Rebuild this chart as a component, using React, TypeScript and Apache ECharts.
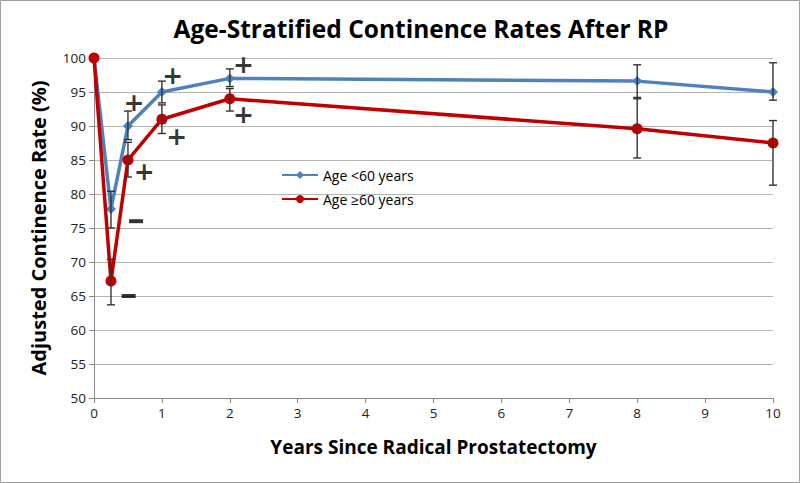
import React, { useEffect, useRef } from "react";
import * as echarts from "echarts";

const years = [0, 0.25, 0.5, 1, 2, 8, 10];
const youngRates = [100, 77.8, 90, 95, 97, 96.6, 95];
const oldRates = [100, 67.2, 85, 91, 94, 89.6, 87.5];
// error bar ranges [low, high]; null where no bar
const youngErr: (number[] | null)[] = [null, [75, 80.4], [88, 92.2], [93.4, 96.6], [95.8, 98.4], [94, 99], [93.8, 99.3]];
const oldErr: (number[] | null)[] = [null, [63.7, 70.4], [82.5, 87.6], [88.9, 93.1], [92.2, 95.5], [85.3, 94.2], [81.3, 90.8]];
const plusMarks = [[0.59, 93.5], [0.74, 83.3], [1.16, 97.5], [1.22, 88.5], [2.2, 99], [2.2, 91.7]];
const minusMarks = [[0.62, 76], [0.51, 65]];
const yTicks = { min: 50, max: 100, interval: 5 };
const xTicks = { min: 0, max: 10, interval: 1 };

const font = "'Open Sans', 'Liberation Sans', sans-serif";

function errData(err: (number[] | null)[]) {
  const out: number[][] = [];
  err.forEach((e, i) => {
    if (e) out.push([years[i], e[0], e[1]]);
  });
  return out;
}

function renderErr(params: any, api: any) {
  const x = api.value(0);
  const lo = api.coord([x, api.value(1)]);
  const hi = api.coord([x, api.value(2)]);
  const w = 4;
  const style = { stroke: "#333333", lineWidth: 1.4 };
  return {
    type: "group",
    children: [
      { type: "line", shape: { x1: lo[0], y1: lo[1], x2: hi[0], y2: hi[1] }, style },
      { type: "line", shape: { x1: lo[0] - w, y1: lo[1], x2: lo[0] + w, y2: lo[1] }, style },
      { type: "line", shape: { x1: hi[0] - w, y1: hi[1], x2: hi[0] + w, y2: hi[1] }, style },
    ],
  };
}

export default function App() {
  const ref = useRef<HTMLDivElement>(null);
  useEffect(() => {
    document.body.style.margin = "0";
    const chart = echarts.init(ref.current!, null, { renderer: "svg" });
    chart.setOption({
      animation: false,
      backgroundColor: "#ffffff",
      title: {
        text: "Age-Stratified Continence Rates After RP",
        left: 416,
        textAlign: "center",
        top: 11,
        textStyle: { fontFamily: font, fontSize: 24.5, fontWeight: "bold", color: "#000" },
      },
      legend: {
        orient: "vertical",
        left: 276,
        top: 163,
        itemGap: 10,
        itemWidth: 36,
        itemHeight: 10,
        textStyle: { fontFamily: font, fontSize: 14, color: "#000" },
        data: ["Age <60 years", "Age ≥60 years"],
      },
      grid: { left: 94, right: 27, top: 58, bottom: 85 },
      xAxis: {
        type: "value",
        ...xTicks,
        name: "Years Since Radical Prostatectomy",
        nameLocation: "middle",
        nameGap: 39,
        nameTextStyle: { fontFamily: font, fontSize: 19, fontWeight: "bold", color: "#000" },
        axisLine: { lineStyle: { color: "#888" } },
        axisTick: { show: true, length: 5, lineStyle: { color: "#888" } },
        axisLabel: { fontFamily: font, fontSize: 13.5, color: "#222", margin: 8 },
        splitLine: { show: false },
      },
      yAxis: {
        type: "value",
        ...yTicks,
        name: "Adjusted Continence Rate (%)",
        nameLocation: "middle",
        nameGap: 46,
        nameTextStyle: { fontFamily: font, fontSize: 20, fontWeight: "bold", color: "#000" },
        axisLine: { show: true, lineStyle: { color: "#888" } },
        axisTick: { show: true, length: 5, lineStyle: { color: "#888" } },
        axisLabel: { fontFamily: font, fontSize: 13.5, color: "#222", margin: 8 },
        splitLine: { lineStyle: { color: "#b4b4b4", width: 1 } },
      },
      series: [
        {
          name: "Age <60 years",
          type: "line",
          data: years.map((x, i) => [x, youngRates[i]]),
          symbol: "diamond",
          symbolSize: 10,
          lineStyle: { color: "#4f81bd", width: 3.5 },
          itemStyle: { color: "#4f81bd" },
          z: 3,
        },
        {
          name: "Age ≥60 years",
          type: "line",
          data: years.map((x, i) => [x, oldRates[i]]),
          symbol: "circle",
          symbolSize: 11,
          lineStyle: { color: "#c00000", width: 3.5 },
          itemStyle: { color: "#c00000" },
          z: 4,
        },
        {
          type: "custom",
          renderItem: renderErr,
          data: errData(youngErr),
          z: 5,
          silent: true,
        },
        {
          type: "custom",
          renderItem: renderErr,
          data: errData(oldErr),
          z: 5,
          silent: true,
        },
        {
          type: "scatter",
          data: plusMarks,
          symbolSize: 0,
          z: 6,
          silent: true,
          label: {
            show: true,
            position: "inside",
            formatter: "+",
            fontFamily: "'DejaVu Sans', sans-serif",
            fontSize: 25,
            fontWeight: "bold",
            color: "#000000",
            textBorderWidth: 0,
            textBorderColor: "transparent",
          },
        },
        {
          type: "scatter",
          data: minusMarks,
          symbol: "rect",
          symbolSize: [14, 4],
          z: 6,
          silent: true,
          itemStyle: { color: "#000000" },
        },
      ],
      graphic: [
        {
          type: "rect",
          shape: { x: 0.5, y: 0.5, width: 799, height: 482 },
          style: { fill: "none", stroke: "#a0a0a0", lineWidth: 1 },
          silent: true,
        },
      ],
    });
    return () => chart.dispose();
  }, []);
  return <div ref={ref} style={{ width: 800, height: 483 }} />;
}
